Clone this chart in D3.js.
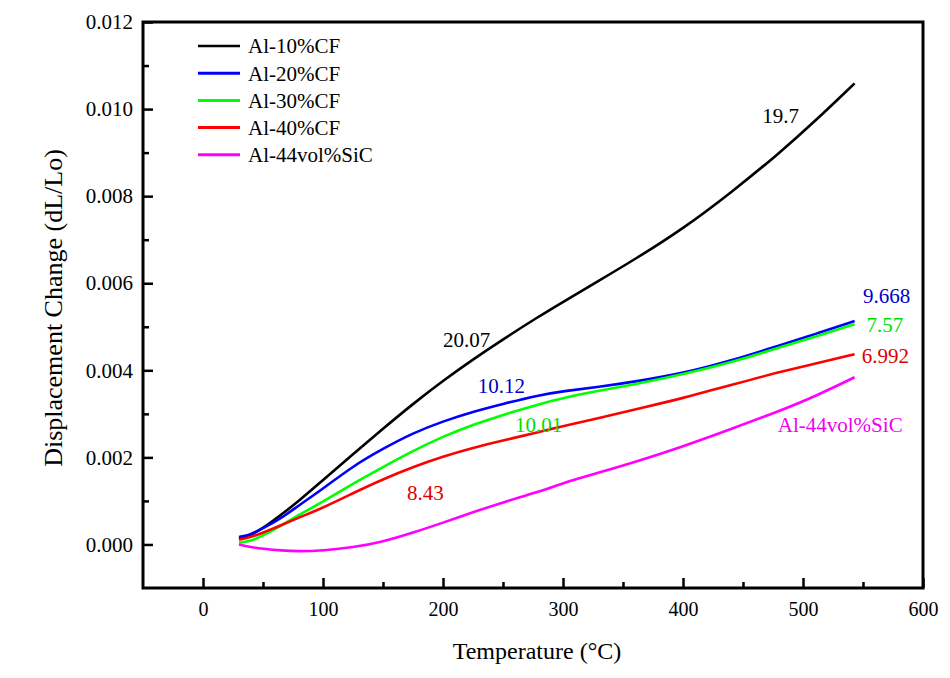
<!DOCTYPE html>
<html>
<head>
<meta charset="utf-8">
<script src="https://cdn.jsdelivr.net/npm/d3@7/dist/d3.min.js"></script>
<style>
  html, body { margin: 0; padding: 0; background: #fff; }
  svg { display: block; }
</style>
</head>
<body>
<svg id="chart" width="950" height="678"></svg>
<script>
// ---------- data ----------
const temperature = [30, 40, 50, 65, 80, 100, 125, 150, 175, 200, 225, 250, 280, 300, 330, 360, 400, 440, 480, 510, 543];
const al10CF  = [0.00013, 0.00022, 0.00037, 0.00068, 0.00100, 0.00148, 0.00207, 0.00266, 0.00323, 0.00376, 0.00425, 0.00471, 0.00524, 0.00557, 0.00606, 0.00655, 0.00725, 0.00808, 0.00898, 0.00972, 0.01059];
const al20CF  = [0.00017, 0.00023, 0.00037, 0.00060, 0.00090, 0.00128, 0.00180, 0.00220, 0.00256, 0.00283, 0.00305, 0.00323, 0.00343, 0.00352, 0.00362, 0.00374, 0.00393, 0.00422, 0.00457, 0.00483, 0.00513];
const al30CF  = [0.00004, 0.00008, 0.00020, 0.00043, 0.00068, 0.00098, 0.00140, 0.00178, 0.00215, 0.00248, 0.00275, 0.00298, 0.00322, 0.00337, 0.00353, 0.00368, 0.00391, 0.00418, 0.00452, 0.00477, 0.00506];
const al40CF  = [0.00011, 0.00017, 0.00027, 0.00044, 0.00062, 0.00084, 0.00118, 0.00150, 0.00178, 0.00202, 0.00222, 0.00239, 0.00258, 0.00272, 0.00290, 0.00310, 0.00336, 0.00366, 0.00396, 0.00415, 0.00437];
const al44SiC = [0.00000, -0.00006, -0.00010, -0.00014, -0.00016, -0.00014, -0.00007, 0.00006, 0.00027, 0.00050, 0.00074, 0.00097, 0.00121, 0.00141, 0.00165, 0.00189, 0.00225, 0.00265, 0.00306, 0.00340, 0.00384];

const seriesNames  = ["Al-10%CF", "Al-20%CF", "Al-30%CF", "Al-40%CF", "Al-44vol%SiC"];
const seriesValues = [al10CF, al20CF, al30CF, al40CF, al44SiC];
const seriesColors = ["#000000", "#0000ff", "#00ff00", "#ff0000", "#ff00ff"];

const xTickValues = [0, 100, 200, 300, 400, 500, 600];
const xMinorTicks = [50, 150, 250, 350, 450, 550];
const yTickValues = [0, 0.002, 0.004, 0.006, 0.008, 0.010, 0.012];
const yMinorTicks = [0.001, 0.003, 0.005, 0.007, 0.009, 0.011];

// annotation texts anchored in data space (temperature, dL/Lo)
const annoText  = ["19.7", "20.07", "10.12", "10.01", "8.43", "9.668", "7.57", "6.992", "Al-44vol%SiC"];
const annoT     = [466, 200, 229, 260, 170, 550, 553, 549, 479];
const annoV     = [0.00969, 0.00454, 0.00348, 0.00259, 0.00103, 0.00554, 0.00488, 0.00417, 0.00259];
const annoColor = ["#000000", "#000000", "#0000cc", "#00dd00", "#dd0000", "#0000cc", "#00dd00", "#dd0000", "#ee00ee"];

const FONT = "Liberation Serif";

// ---------- layout ----------
const svg = d3.select("#chart");
const W = 950, H = 678;
const margin = { left: 143, right: 27, top: 22, bottom: 90 };
const iw = W - margin.left - margin.right;
const ih = H - margin.top - margin.bottom;

const x = d3.scaleLinear().domain([-50, 600]).range([0, iw]);
const y = d3.scaleLinear().domain([-0.001, 0.012]).range([ih, 0]);

const g = svg.append("g").attr("transform", `translate(${margin.left},${margin.top})`);

// curves
const line = d3.line()
  .x(d => x(d[0]))
  .y(d => y(d[1]))
  .curve(d3.curveBasis);

seriesValues.forEach((vals, i) => {
  const pts = temperature.map((t, j) => [t, vals[j]]);
  g.append("path")
    .datum(pts)
    .attr("fill", "none")
    .attr("stroke", seriesColors[i])
    .attr("stroke-width", 2.6)
    .attr("stroke-linejoin", "round")
    .attr("d", line);
});

// annotations
annoText.forEach((t, i) => {
  g.append("text")
    .attr("x", x(annoT[i]))
    .attr("y", y(annoV[i]))
    .attr("fill", annoColor[i])
    .attr("font-family", FONT)
    .attr("font-size", 21)
    .text(t);
});

// axes
const xAxis = d3.axisBottom(x).tickValues(xTickValues).tickSize(-10).tickPadding(14).tickFormat(d3.format("d"));
const xMinor = d3.axisBottom(x).tickValues(xMinorTicks).tickSize(-6).tickFormat("");
const yAxis = d3.axisLeft(y).tickValues(yTickValues).tickSize(-10).tickPadding(10).tickFormat(d3.format(".3f"));
const yMinor = d3.axisLeft(y).tickValues(yMinorTicks).tickSize(-6).tickFormat("");

function styleAxis(sel, fs) {
  sel.attr("font-family", FONT);
  sel.select(".domain").remove();
  sel.selectAll(".tick line").attr("stroke", "#000").attr("stroke-width", 2.5);
  sel.selectAll(".tick text").attr("fill", "#000").attr("font-size", fs)
     .attr("font-family", FONT);
}

g.append("g").attr("transform", `translate(0,${ih})`).call(xAxis).call(s => styleAxis(s, 20));
g.append("g").attr("transform", `translate(0,${ih})`).call(xMinor).call(s => styleAxis(s, 20));
g.append("g").call(yAxis).call(s => styleAxis(s, 21));
g.append("g").call(yMinor).call(s => styleAxis(s, 21));

// frame
g.append("rect")
  .attr("x", 0).attr("y", 0).attr("width", iw).attr("height", ih)
  .attr("fill", "none").attr("stroke", "#000").attr("stroke-width", 3);

// axis titles
svg.append("text")
  .attr("x", margin.left + iw / 2 + 4)
  .attr("y", 659)
  .attr("text-anchor", "middle")
  .attr("font-family", FONT)
  .attr("font-size", 24)
  .attr("fill", "#000")
  .text("Temperature (°C)");

svg.append("text")
  .attr("transform", `translate(62,${margin.top + ih / 2 + 3}) rotate(-90)`)
  .attr("text-anchor", "middle")
  .attr("font-family", FONT)
  .attr("font-size", 26)
  .attr("fill", "#000")
  .text("Displacement Change (dL/Lo)");

// legend
const legend = svg.append("g").attr("transform", "translate(198,46)");
seriesNames.forEach((name, i) => {
  const row = legend.append("g").attr("transform", `translate(0,${i * 27.2})`);
  row.append("line")
    .attr("x1", 0).attr("x2", 42).attr("y1", 0).attr("y2", 0)
    .attr("stroke", seriesColors[i]).attr("stroke-width", i === 0 ? 2.5 : 3);
  row.append("text")
    .attr("x", 50).attr("y", 0).attr("dy", "0.35em")
    .attr("font-family", FONT)
    .attr("font-size", 21).attr("fill", "#000")
    .text(name);
});
</script>
</body>
</html>
